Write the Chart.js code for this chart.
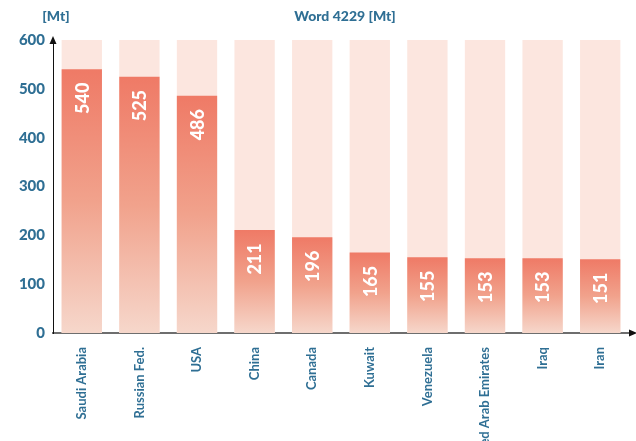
<!DOCTYPE html>
<html>
<head>
<meta charset="utf-8">
<script src="https://cdn.jsdelivr.net/npm/chart.js@4/dist/chart.umd.min.js"></script>
<style>
  html, body { margin: 0; padding: 0; background: #fff; }
  #wrap { width: 636px; height: 441px; position: relative; }
</style>
</head>
<body>
<div id="wrap"><canvas id="c"></canvas></div>
<script>
// Crude oil production by country, million tonnes
const countries = ['Saudi Arabia', 'Russian Fed.', 'USA', 'China', 'Canada', 'Kuwait', 'Venezuela', 'United Arab Emirates', 'Iraq', 'Iran'];
const production = [540, 525, 486, 211, 196, 165, 155, 153, 153, 151];
const scaleMax = [600, 600, 600, 600, 600, 600, 600, 600, 600, 600];
const yTicks = [0, 100, 200, 300, 400, 500, 600];
const unitLabel = '[Mt]';
const worldTotal = 'Word 4229 [Mt]';

const BLUE = '#2f6f94';
const FONT = 'Lato, "Noto Sans", sans-serif';

// axis arrows, headings and rotated value labels
const decor = {
  id: 'decor',
  afterDraw(chart) {
    const { ctx, chartArea: a, scales } = chart;
    ctx.save();
    // y-axis arrow
    ctx.fillStyle = '#111';
    ctx.beginPath();
    ctx.moveTo(a.left, a.top - 4);
    ctx.lineTo(a.left - 3.5, a.top + 4);
    ctx.lineTo(a.left + 3.5, a.top + 4);
    ctx.closePath();
    ctx.fill();
    // x-axis extension + arrow
    ctx.strokeStyle = '#6e6e6e';
    ctx.lineWidth = 2;
    ctx.beginPath();
    ctx.moveTo(a.right, a.bottom);
    ctx.lineTo(a.right + 3, a.bottom);
    ctx.stroke();
    ctx.fillStyle = '#111';
    ctx.beginPath();
    ctx.moveTo(a.right + 8, a.bottom);
    ctx.lineTo(a.right, a.bottom - 3.5);
    ctx.lineTo(a.right, a.bottom + 3.5);
    ctx.closePath();
    ctx.fill();

    // headings
    ctx.fillStyle = BLUE;
    ctx.font = '900 14px ' + FONT;
    ctx.textBaseline = 'middle';
    ctx.textAlign = 'center';
    ctx.fillText(unitLabel, 56, 16);
    ctx.fillText(worldTotal, (a.left + a.right) / 2 + 4, 16);

    // value labels inside bars
    const meta = chart.getDatasetMeta(0);
    ctx.fillStyle = '#ffffff';
    ctx.font = '900 18px ' + FONT;
    ctx.textAlign = 'center';
    ctx.textBaseline = 'middle';
    meta.data.forEach((bar, i) => {
      const top = scales.y.getPixelForValue(production[i]);
      ctx.save();
      ctx.translate(bar.x + 1, top + 29);
      ctx.rotate(-Math.PI / 2);
      ctx.fillText(String(production[i]), 0, 0);
      ctx.restore();
    });
    ctx.restore();
  }
};

const barFill = (context) => {
  const chart = context.chart;
  const { ctx, chartArea, scales } = chart;
  if (!chartArea || context.type !== 'data') return '#f0907a';
  const top = scales.y.getPixelForValue(context.raw);
  const bottom = scales.y.getPixelForValue(0);
  const g = ctx.createLinearGradient(0, top, 0, bottom);
  g.addColorStop(0, '#ef7a66');
  g.addColorStop(0.5, '#f1a28c');
  g.addColorStop(1, '#f6d7cb');
  return g;
};

new Chart(document.getElementById('c'), {
  type: 'bar',
  data: {
    labels: countries,
    datasets: [
      {
        data: production,
        backgroundColor: barFill,
        borderWidth: 0,
        grouped: false,
        order: 0,
        barPercentage: 0.7,
        categoryPercentage: 1
      },
      {
        data: scaleMax,
        backgroundColor: '#fce6df',
        borderWidth: 0,
        grouped: false,
        order: 1,
        barPercentage: 0.7,
        categoryPercentage: 1
      }
    ]
  },
  options: {
    responsive: true,
    maintainAspectRatio: false,
    animation: false,
    events: [],
    layout: { padding: { top: 40, right: 7, left: 0, bottom: 0 } },
    plugins: { legend: { display: false }, tooltip: { enabled: false }, title: { display: false } },
    scales: {
      x: {
        grid: { display: false },
        border: { display: true, color: '#6e6e6e', width: 2 },
        ticks: {
          color: BLUE,
          font: { family: FONT, size: 13, weight: 'bold' },
          minRotation: 90,
          maxRotation: 90,
          autoSkip: false,
          padding: 6
        },
        afterFit(scale) { scale.height = 108; }
      },
      y: {
        min: 0,
        max: 600,
        afterBuildTicks(scale) { scale.ticks = yTicks.map(v => ({ value: v })); },
        grid: { display: false },
        border: { display: true, color: '#111', width: 1 },
        ticks: {
          color: BLUE,
          font: { family: FONT, size: 15, weight: '900' },
          padding: 0
        },
        afterFit(scale) { scale.width = 53; }
      }
    }
  },
  plugins: [decor]
});
</script>
</body>
</html>
